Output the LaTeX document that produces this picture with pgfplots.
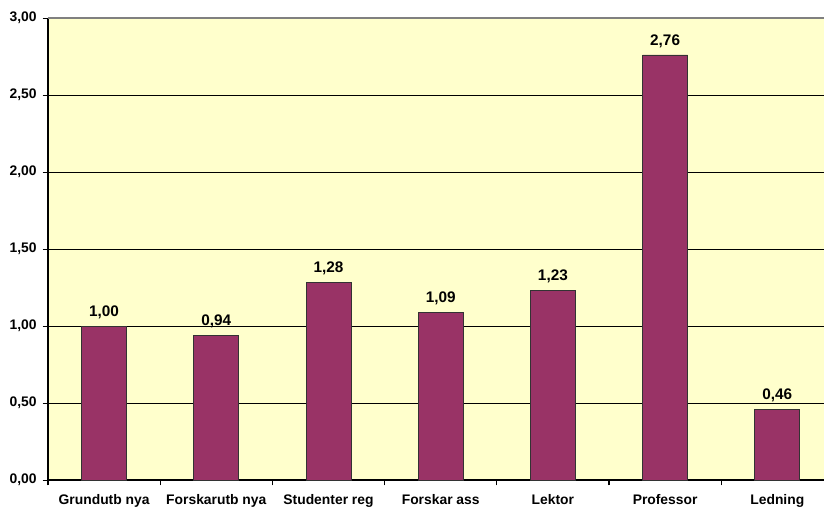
\documentclass[border=0pt]{standalone}
\usepackage{pgfplots}
\pgfplotsset{compat=1.18}
\usepackage{fontspec}
\setmainfont{Liberation Sans}
\definecolor{bg}{HTML}{FFFFCC}
\definecolor{bar}{HTML}{993366}
\begin{document}
\begin{tikzpicture}
\begin{axis}[
  at={(0,0)}, anchor=south west,
  scale only axis=true,
  width=582pt, height=346.5pt,
  xmin=-0.5, xmax=6.416,
  ymin=0, ymax=3,
  axis background/.style={fill=bg},
  axis x line*=bottom, axis y line*=left,
  axis line style={black, line width=0.8pt, -},
  xtick=data,
  xticklabels={Grundutb nya,Forskarutb nya,Studenter reg,Forskar ass,Lektor,Professor,Ledning},
  major x tick style={draw=none},
  minor xtick={-0.5,0.5,...,5.5},
  minor tick length=4pt,
  minor x tick style={black, line width=0.8pt},
  every tick/.style={black},
  ytick={0,0.5,...,3},
  major tick length=4pt,
  tick align=outside,
  ymajorgrids=true,
  major grid style={black, line width=0.6pt},
  /pgf/number format/assume math mode=true,
  /pgf/number format/use comma,
  /pgf/number format/fixed,
  /pgf/number format/fixed zerofill,
  /pgf/number format/precision=2,
  yticklabel style={font=\fontsize{10.4}{12}\selectfont\bfseries, xshift=-1pt},
  xticklabel style={font=\fontsize{10.4}{12}\selectfont\bfseries, yshift=-3pt},
  ybar, bar width=33.75pt,
  nodes near coords,
  every node near coord/.append style={font=\fontsize{11.5}{13}\selectfont\bfseries, black, yshift=2pt},
  clip=false,
]
\addplot[fill=bar, draw=black!80, line width=0.6pt] coordinates {
(0,1.00) (1,0.94) (2,1.28) (3,1.09) (4,1.23) (5,2.76) (6,0.46)};
\draw[gray, line width=0.8pt] (rel axis cs:0,1) -- (rel axis cs:1,1);
\end{axis}
\pgfresetboundingbox
\path (-36pt,-21pt) rectangle (582pt,360pt);
\end{tikzpicture}
\end{document}
